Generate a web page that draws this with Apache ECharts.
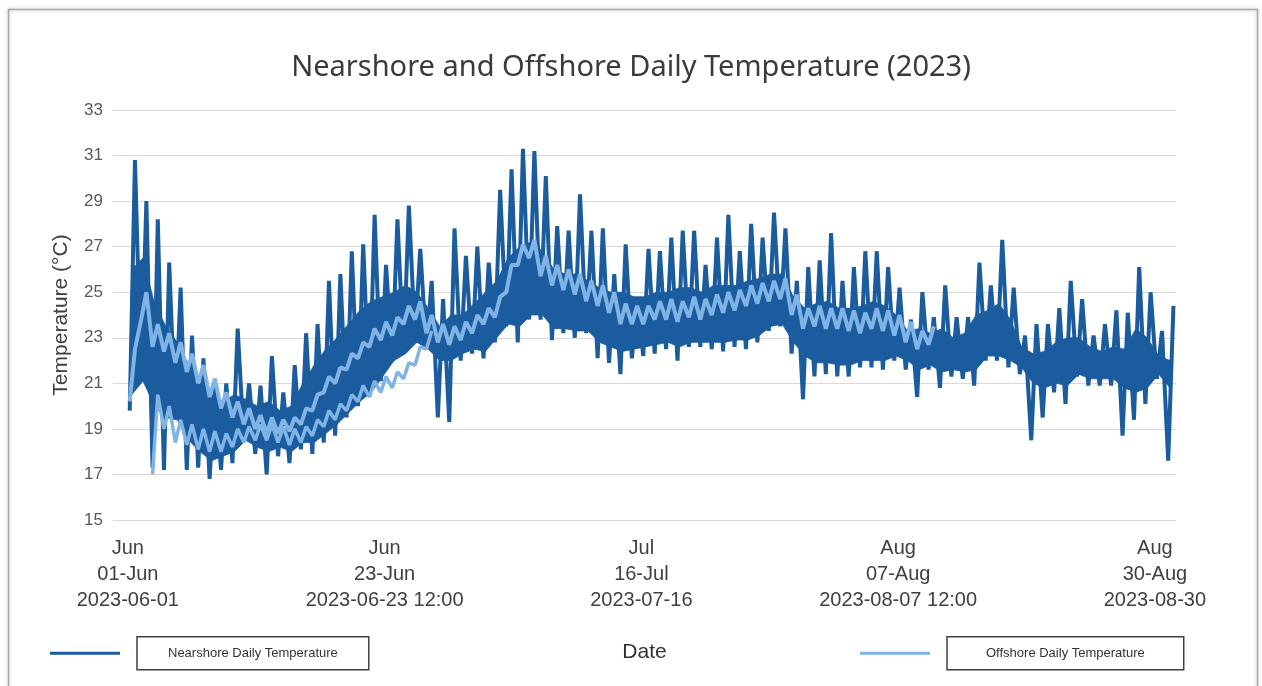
<!DOCTYPE html>
<html>
<head>
<meta charset="utf-8">
<title>Nearshore and Offshore Daily Temperature (2023)</title>
<script src="https://cdn.jsdelivr.net/npm/echarts@6/dist/echarts.min.js"></script>
<style>
	html, body { margin: 0; padding: 0; background: #fff; }
	#main { width: 1262px; height: 686px; }
</style>
</head>
<body>
<div id="main"></div>
<script>
// 近岸 nearshore: daily low / daily high, one value per day from 2023-06-01
var nearStart = '2023-06-01';
var nearLow = [19.8, 21.1, 17.3, 17.2, 19.4, 17.2, 17.3, 16.8, 17.2, 17.5,
	18.5, 17.9, 17.0, 17.8, 17.5, 18.1, 17.9, 18.4, 18.7, 19.5,
	20.0, 20.4, 21.1, 22.0, 22.3, 23.0, 22.5, 19.5, 19.3, 22.0,
	22.3, 22.1, 22.8, 23.5, 22.8, 23.8, 23.8, 22.9, 23.2, 23.0,
	23.2, 22.1, 21.9, 21.4, 22.1, 22.2, 22.3, 22.5, 22.0, 22.6,
	22.6, 22.5, 22.4, 22.6, 22.5, 22.8, 23.3, 23.5, 22.3, 20.3,
	21.3, 21.4, 21.3, 21.3, 21.7, 21.7, 21.6, 22.0, 21.6, 20.4,
	21.6, 20.8, 21.3, 21.2, 20.9, 22.0, 22.0, 21.7, 21.4, 18.5,
	19.5, 20.6, 20.1, 21.3, 20.9, 20.9, 20.9, 18.7, 19.4, 20.1,
	21.2, 17.6];
var nearHigh = [30.8, 29.0, 28.2, 26.3, 25.2, 23.1, 22.1, 20.9, 21.0, 23.4,
	21.0, 20.9, 22.2, 20.6, 21.8, 23.2, 23.6, 25.5, 25.8, 26.8,
	27.1, 28.4, 26.2, 28.2, 28.8, 26.9, 25.5, 24.7, 27.8, 26.6,
	27.0, 26.3, 29.5, 30.4, 31.3, 31.2, 30.1, 27.9, 27.7, 29.3,
	27.7, 27.8, 25.8, 27.1, 24.7, 26.9, 26.8, 27.4, 27.7, 27.7,
	26.2, 27.4, 28.4, 26.8, 28.0, 27.4, 28.5, 27.8, 25.5, 26.1,
	26.4, 27.6, 25.5, 26.1, 26.8, 26.8, 26.1, 25.2, 23.8, 25.0,
	23.9, 25.3, 23.9, 23.9, 26.3, 25.3, 27.3, 25.2, 23.1, 23.6,
	23.6, 24.3, 25.5, 24.7, 23.1, 23.6, 24.2, 24.1, 26.1, 25.0,
	23.3, 24.4];
// dense part of the nearshore band (without the daily spikes): bottom and top
var nearBase = [20.5, 21.1, 20.0, 19.5, 19.4, 18.5, 18.0, 17.6, 17.8, 18.0,
	18.5, 18.2, 18.0, 18.2, 18.0, 18.4, 18.4, 18.8, 19.2, 19.7,
	20.2, 20.6, 21.3, 22.0, 22.3, 22.8, 22.5, 22.0, 22.0, 22.3,
	22.5, 22.4, 23.0, 23.6, 23.5, 24.0, 24.0, 23.4, 23.4, 23.3,
	23.3, 22.8, 22.6, 22.4, 22.5, 22.6, 22.7, 22.8, 22.6, 22.8,
	22.8, 22.8, 22.8, 22.9, 22.9, 23.1, 23.5, 23.6, 22.8, 22.2,
	21.9, 21.9, 21.8, 21.8, 22.0, 22.0, 22.0, 22.2, 22.0, 21.6,
	21.8, 21.5, 21.6, 21.5, 21.6, 22.2, 22.2, 22.0, 21.7, 21.0,
	20.8, 21.0, 20.9, 21.4, 21.2, 21.2, 21.2, 20.8, 20.6, 20.8,
	21.4, 20.8];
var nearMid = [26.0, 26.5, 24.5, 23.5, 22.8, 21.8, 21.0, 20.5, 20.2, 20.5,
	20.3, 20.0, 20.2, 19.8, 20.0, 21.0, 21.8, 22.5, 23.0, 23.6,
	24.2, 24.6, 24.8, 25.0, 25.3, 25.0, 24.3, 23.5, 24.0, 24.0,
	24.5, 25.0, 25.5, 26.5, 27.0, 27.2, 26.8, 26.0, 25.8, 25.8,
	25.5, 25.2, 25.0, 25.0, 24.8, 24.8, 25.0, 25.0, 25.2, 25.2,
	25.0, 25.3, 25.3, 25.3, 25.5, 25.6, 25.8, 25.8, 24.8, 24.3,
	24.5, 24.6, 24.3, 24.3, 24.4, 24.6, 24.4, 24.0, 23.3, 23.4,
	23.2, 23.4, 23.0, 23.2, 24.0, 24.2, 24.5, 23.8, 22.6, 22.3,
	22.4, 22.8, 23.0, 23.0, 22.6, 22.4, 22.6, 22.5, 23.4, 23.0,
	22.2, 22.0];

// 离岸 offshore: upper trace, daily low / high from 2023-06-01
var offStart = '2023-06-01';
var offLow = [20.2, 23.8, 22.6, 22.4, 21.9, 21.5, 21.0, 20.4, 19.9, 19.5,
	19.2, 19.0, 18.8, 18.8, 18.9, 19.2, 19.8, 20.6, 21.0, 21.6,
	22.1, 22.6, 22.9, 23.1, 23.6, 23.8, 23.2, 22.8, 22.7, 22.9,
	23.2, 23.6, 23.9, 25.0, 26.2, 26.5, 25.7, 25.3, 25.1, 24.9,
	24.6, 24.4, 24.1, 23.6, 23.6, 23.6, 23.8, 23.8, 23.7, 23.9,
	23.8, 24.0, 24.1, 24.2, 24.4, 24.5, 24.6, 24.7, 24.0, 23.4,
	23.5, 23.4, 23.4, 23.3, 23.2, 23.4, 23.3, 23.1, 22.8, 22.5,
	22.7];
var offHigh = [22.5, 25.0, 23.6, 23.2, 22.8, 22.3, 21.8, 21.2, 20.6, 20.2,
	19.9, 19.6, 19.5, 19.4, 19.5, 19.9, 20.5, 21.3, 21.7, 22.3,
	22.8, 23.4, 23.7, 23.9, 24.4, 24.6, 24.0, 23.6, 23.5, 23.7,
	24.0, 24.3, 24.8, 26.2, 27.1, 27.3, 26.6, 26.2, 26.0, 25.8,
	25.5, 25.3, 25.0, 24.5, 24.4, 24.4, 24.6, 24.7, 24.6, 24.8,
	24.7, 24.9, 25.0, 25.1, 25.3, 25.4, 25.5, 25.6, 24.9, 24.3,
	24.4, 24.3, 24.3, 24.2, 24.1, 24.3, 24.2, 24.0, 23.7, 23.3,
	23.5];

// offshore: second (lower) trace in June, from 2023-06-03
var off2Start = '2023-06-03';
var off2Low = [17.0, 19.0, 18.4, 18.3, 18.1, 18.0, 18.0, 18.2, 18.4, 18.5,
	18.5, 18.4, 18.3, 18.4, 18.7, 19.1, 19.4, 19.8, 20.2, 20.4,
	20.6, 20.8, 21.2, 21.8, 22.5];
var off2High = [20.5, 20.0, 19.4, 19.2, 19.0, 18.9, 18.8, 19.0, 19.1, 19.2,
	19.2, 19.1, 19.0, 19.1, 19.4, 19.8, 20.1, 20.5, 20.9, 21.1,
	21.3, 21.5, 21.9, 22.6, 23.3];

// x tick labels
var tickTimes = ['2023-06-01T00:00Z', '2023-06-23T12:00Z', '2023-07-16T00:00Z', '2023-08-07T12:00Z', '2023-08-30T00:00Z'];
var tickMonth = ['Jun', 'Jun', 'Jul', 'Aug', 'Aug'];
var tickDay = ['01-Jun', '23-Jun', '16-Jul', '07-Aug', '30-Aug'];
var tickStamp = ['2023-06-01', '2023-06-23 12:00', '2023-07-16', '2023-08-07 12:00', '2023-08-30'];

var yTicks = [15, 33, 2]; // min, max, step

var HOUR = 3600 * 1000;
var DAY = 24 * HOUR;
var T0 = Date.parse('2023-06-01T00:00:00Z'); // x axis is in days since this

function toDays(t) {
	return (t - T0) / DAY;
}

// low in the early morning, high in the afternoon
function dailyPoints(start, lows, highs) {
	var d0 = toDays(Date.parse(start + 'T00:00:00Z'));
	var out = [];
	for (var i = 0; i < lows.length; i++) {
		out.push([d0 + i + 4 / 24, lows[i]]);
		out.push([d0 + i + 15 / 24, highs[i]]);
	}
	return out;
}

// [x, bottom, top] per day for the dense band
function bandPoints(start, bottoms, tops) {
	var d0 = toDays(Date.parse(start + 'T00:00:00Z'));
	return bottoms.map(function (v, i) { return [d0 + i + 8 / 24, v, tops[i]]; });
}

var tickValues = tickTimes.map(function (s) { return toDays(Date.parse(s)); });

var nearColor = '#1b5c9e';
var offColor = '#80b4e6';
var nearName = 'Nearshore Daily Temperature';
var offName = 'Offshore Daily Temperature';

var bandData = bandPoints(nearStart, nearBase, nearMid);

// one quad between two neighbouring days
function renderBand(params, api) {
	var i = params.dataIndex;
	if (i >= bandData.length - 1) return null;
	var a = bandData[i], b = bandData[i + 1];
	var pts = [
		api.coord([a[0], a[1]]),
		api.coord([b[0], b[1]]),
		api.coord([b[0], b[2]]),
		api.coord([a[0], a[2]])
	];
	return {
		type: 'polygon',
		shape: { points: pts },
		style: { fill: nearColor, stroke: nearColor, lineWidth: 0.8 }
	};
}

// line sample + empty space before the boxed text
var legendIcon = 'path://M0,0H70V3H0Z M81.9,0H82V3H81.9Z';

var chart = echarts.init(document.getElementById('main'), null, { renderer: 'canvas' });

chart.setOption({
	animation: false,
	backgroundColor: '#fff',
	title: {
		text: 'Nearshore and Offshore Daily Temperature (2023)',
		left: 'center',
		top: 48,
		textStyle: { fontFamily: 'Noto Sans', fontSize: 29, fontWeight: 'normal', color: '#3a3a3a' }
	},
	graphic: [{
		type: 'rect',
		silent: true,
		shape: { x: 8.5, y: 9.5, width: 1249, height: 700 },
		style: { fill: 'none', stroke: '#a6a6a6', lineWidth: 1.5, shadowBlur: 4, shadowColor: 'rgba(0,0,0,0.25)' }
	}],
	legend: [{
		data: [nearName],
		left: 45,
		top: 631,
		selectedMode: false,
		icon: legendIcon,
		itemWidth: 82,
		itemHeight: 3,
		textStyle: {
			fontFamily: 'Liberation Sans', fontSize: 13, color: '#333',
			borderColor: '#404040', borderWidth: 1.5, padding: [10, 31]
		}
	}, {
		data: [offName],
		left: 855,
		top: 631,
		selectedMode: false,
		icon: legendIcon,
		itemWidth: 82,
		itemHeight: 3,
		textStyle: {
			fontFamily: 'Liberation Sans', fontSize: 13, color: '#333',
			borderColor: '#404040', borderWidth: 1.5, padding: [10, 39]
		}
	}],
	grid: { left: 113, right: 86, top: 110, bottom: 166 },
	xAxis: {
		type: 'value',
		min: -1.3,
		max: 91.85,
		name: 'Date',
		nameLocation: 'middle',
		nameGap: 122,
		nameTextStyle: { fontFamily: 'Liberation Sans', fontSize: 21, color: '#333' },
		axisLine: { show: false },
		axisTick: { show: false },
		splitLine: { show: false },
		axisLabel: {
			customValues: tickValues,
			margin: 15,
			fontFamily: 'Liberation Sans',
			fontSize: 20,
			lineHeight: 26,
			color: '#404040',
			formatter: function (value) {
				var i = tickValues.indexOf(value);
				if (i < 0) return '';
				return tickMonth[i] + '\n' + tickDay[i] + '\n' + tickStamp[i];
			}
		}
	},
	yAxis: {
		type: 'value',
		min: yTicks[0],
		max: yTicks[1],
		interval: yTicks[2],
		name: 'Temperature (°C)',
		nameLocation: 'middle',
		nameGap: 41,
		nameTextStyle: { fontFamily: 'Liberation Sans', fontSize: 21, color: '#404040' },
		axisLine: { show: false },
		axisTick: { show: false },
		axisLabel: { fontFamily: 'Liberation Sans', fontSize: 17, color: '#595959', margin: 10 },
		splitLine: { lineStyle: { color: '#d9d9d9', width: 1.2 } }
	},
	series: [{
		name: 'nearBand',
		type: 'custom',
		silent: true,
		renderItem: renderBand,
		encode: { x: 0, y: [1, 2] },
		data: bandData,
		z: 1
	}, {
		name: nearName,
		type: 'line',
		symbol: 'none',
		color: nearColor,
		lineStyle: { color: nearColor, width: 4 },
		data: dailyPoints(nearStart, nearLow, nearHigh),
		z: 2
	}, {
		name: offName,
		type: 'line',
		symbol: 'none',
		color: offColor,
		lineStyle: { color: offColor, width: 4 },
		data: dailyPoints(offStart, offLow, offHigh),
		z: 3
	}, {
		name: offName,
		type: 'line',
		symbol: 'none',
		color: offColor,
		lineStyle: { color: offColor, width: 3.5 },
		data: dailyPoints(off2Start, off2Low, off2High),
		z: 3
	}]
});
</script>
</body>
</html>
